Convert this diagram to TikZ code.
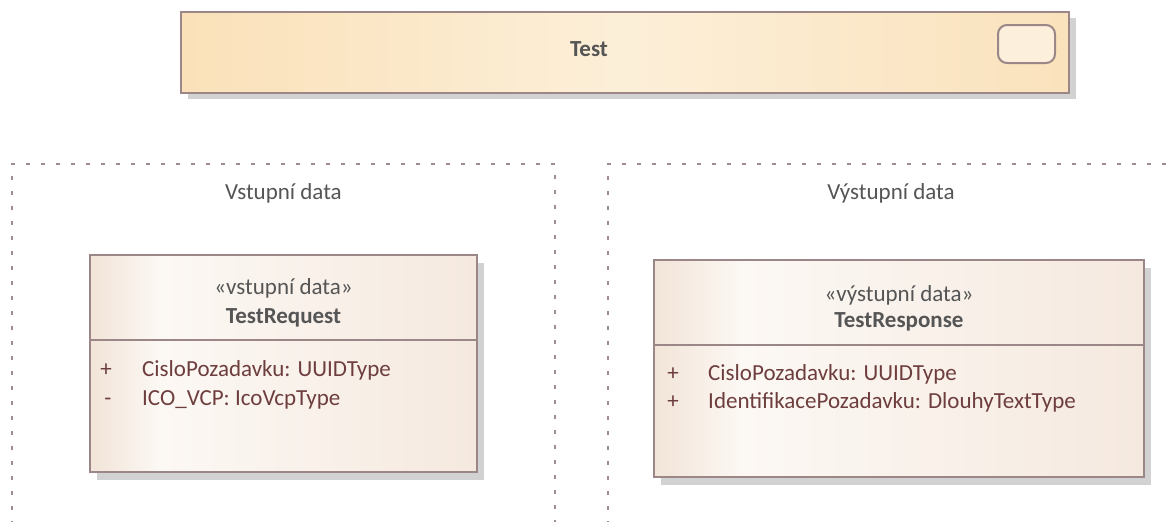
\documentclass[tikz,border=0pt]{standalone}
\usepackage{fontspec}
\setmainfont{Carlito}
\definecolor{edge}{RGB}{155,135,135}
\definecolor{shadowc}{RGB}{210,210,210}
\definecolor{topL}{RGB}{250,225,185}
\definecolor{topM}{RGB}{252,239,216}
\definecolor{topR}{RGB}{250,226,188}
\definecolor{smallf}{RGB}{252,240,220}
\definecolor{clsL}{RGB}{242,228,216}
\definecolor{clsW}{RGB}{252,248,244}
\definecolor{clsR}{RGB}{245,233,223}
\definecolor{greytext}{RGB}{85,85,85}
\definecolor{attrtext}{RGB}{110,62,62}
\definecolor{pkgline}{RGB}{160,142,142}
\pgfdeclarehorizontalshading{classshade}{100bp}{color(0bp)=(clsL); color(25bp)=(clsL); color(34bp)=(clsW); color(75bp)=(clsR); color(100bp)=(clsR)}
\tikzset{
  shadowbox/.style={fill=shadowc, draw=none},
  topbox/.style={draw=edge, line width=2pt, left color=topL, right color=topR, middle color=topM},
  smallbox/.style={draw=edge, line width=2pt, fill=smallf, rounded corners=9pt},
  classbox/.style={draw=edge, line width=2pt, shading=classshade},
  divider/.style={draw=edge, line width=2pt},
  pkgborder/.style={draw=pkgline, line width=2pt, dash pattern=on 4pt off 11pt},
  txt/.style={inner sep=0pt, font=\fontsize{23}{27}\selectfont},
  pkgtitle/.style={txt, text=greytext, anchor=base},
  stereo/.style={txt, text=greytext, anchor=base},
  clsname/.style={txt, text=greytext, anchor=base, font=\fontsize{23}{27}\selectfont\bfseries},
  attr/.style={txt, text=attrtext, anchor=base west},
  vis/.style={txt, text=attrtext, anchor=base},
}
\begin{document}
\begin{tikzpicture}[x=1pt,y=-1pt]
\useasboundingbox (0,0) rectangle (1168,522);
\clip (0,0) rectangle (1168,522);

% packages
\draw[pkgborder] (12,540) -- (12,164) -- (555,164) -- (555,540);
\draw[pkgborder] (608,540) -- (608,164) -- (1190,164);
\node[pkgtitle] (pkgin) at (283.5,199) {Vstupní data};
\node[pkgtitle] (pkgout) at (891,199) {Výstupní data};

% top frame
\fill[shadowbox] (188,18) rectangle (1076,99);
\path[topbox] (181,12) rectangle (1069,93);
\node[clsname] (test) at (589,56) {Test};
\path[smallbox] (998,25) rectangle (1055,63);

% left class
\fill[shadowbox] (97,263) rectangle (484,480);
\path[classbox] (90,255) rectangle (477,472);
\draw[divider] (90,340) -- (477,340);
\node[stereo] (st1) at (283.5,294) {«vstupní data»};
\node[clsname] (req) at (283.5,323) {TestRequest};
\node[vis] (v11) at (106,376) {+};
\node[attr] (a11) at (142,376) {CisloPozadavku: UUIDType};
\node[vis] (v12) at (108,405) {-};
\node[attr] (a12) at (142,405) {ICO\_VCP: IcoVcpType};

% right class
\fill[shadowbox] (661,268) rectangle (1151,485);
\path[classbox] (654,260) rectangle (1144,477);
\draw[divider] (654,345) -- (1144,345);
\node[stereo] (st2) at (899,301) {«výstupní data»};
\node[clsname] (resp) at (899,327) {TestResponse};
\node[vis] (v21) at (673,380) {+};
\node[attr] (a21) at (708,380) {CisloPozadavku: UUIDType};
\node[vis] (v22) at (673,408) {+};
\node[attr] (a22) at (708,408) {IdentifikacePozadavku: DlouhyTextType};
\end{tikzpicture}
\end{document}
